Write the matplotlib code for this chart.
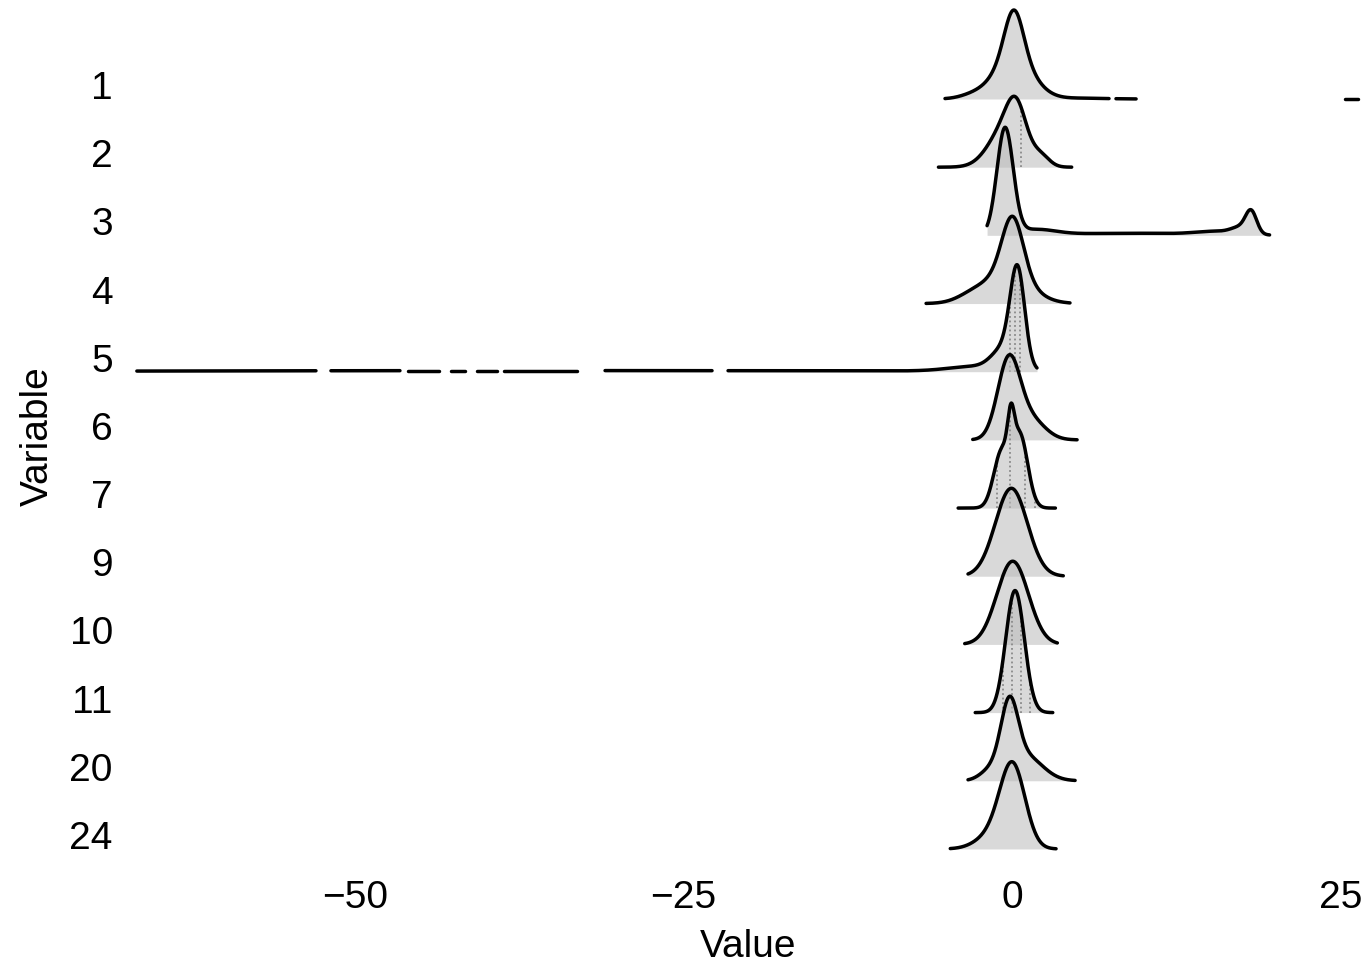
import numpy as np
import matplotlib.pyplot as plt

plt.rcParams['font.family'] = ['Liberation Sans', 'DejaVu Sans']

# rows, top to bottom
variables = ['1', '2', '3', '4', '5', '6', '7', '9', '10', '11', '20', '24']

# height of each ridge's highest point, in row spacings
peak_heights = [1.305, 1.04, 1.585, 1.28, 1.57, 1.25, 1.54, 1.29, 1.22, 1.79, 1.24, 1.28]

# density shape of each variable as bumps (amplitude, centre, width)
shapes = {
    '1': [(0.55, 0.15, 0.7), (0.5, 0.1, 1.45), (0.04, -3.0, 1.0), (0.01, 5.0, 2.0)],
    '2': [(0.7, -0.5, 1.25), (0.7, 0.35, 0.75), (0.18, 2.2, 0.65)],
    '3': [(1.0, -0.53, 0.62), (0.05, 1.8, 1.5), (0.02, 9.0, 5.0), (0.03, 15.5, 1.5),
          (0.2, 18.2, 0.42), (0.06, 17.4, 0.7)],
    '4': [(0.7, 0.05, 0.8), (0.35, -0.3, 1.7), (0.08, -3.0, 1.2)],
    '5': [(1.0, 0.42, 0.55), (0.22, -0.6, 0.9), (0.05, -2.8, 2.0), (0.012, -35.0, 30.0)],
    '6': [(0.85, -0.25, 0.85), (0.22, 1.4, 1.1)],
    '7': [(0.4, -0.08, 0.25), (0.72, 0.6, 0.6), (0.55, -0.8, 0.6)],
    '9': [(1.0, -0.05, 1.22)],
    '10': [(1.0, 0.05, 1.2)],
    '11': [(1.0, 0.23, 0.71)],
    '20': [(0.8, -0.2, 0.65), (0.3, 1.0, 1.3), (0.12, -1.6, 0.8)],
    '24': [(0.9, 0.05, 0.95), (0.15, -1.5, 1.2)],
}

# value ranges where each density line is drawn (gaps = density cut off)
segments = {
    '1': [(-5.1, 7.38), (7.91, 9.44), (25.34, 26.33)],
    '2': [(-5.6, 4.54)],
    '3': [(-1.9, 19.6)],
    '4': [(-6.54, 4.41)],
    '5': [(-66.6, -52.97), (-51.83, -46.58), (-45.97, -43.61), (-42.69, -41.63),
          (-40.72, -39.19), (-38.66, -33.11), (-30.97, -22.83), (-21.61, 1.9)],
    '6': [(-2.99, 4.95)],
    '7': [(-4.1, 3.3)],
    '9': [(-3.35, 3.9)],
    '10': [(-3.6, 3.45)],
    '11': [(-2.8, 3.1)],
    '20': [(-3.35, 4.8)],
    '24': [(-4.7, 3.35)],
}

# values where many points pile up (dotted columns inside the ridges)
stacks = {
    '2': [0.66],
    '5': [-0.15, 0.23, 0.61],
    '7': [-1.16, -0.15, 1.0, 1.75],
    '11': [-0.68, 0.0, 0.66, 1.37],
}


def density(var, x):
    return sum(a * np.exp(-0.5 * ((x - m) / s) ** 2) for a, m, s in shapes[var])


fig = plt.figure(figsize=(13.68, 9.65), dpi=100)
ax = fig.add_axes([131.6 / 1368, 93 / 965, (1364.2 - 131.6) / 1368, 872 / 965])

n = len(variables)
for i, var in enumerate(variables):
    base = n - 1 - i
    xs = [np.linspace(lo, hi, 800) for lo, hi in segments[var]]
    top = max(density(var, x).max() for x in xs)
    scale = peak_heights[i] / top
    for x in xs:
        y = base + density(var, x) * scale
        ax.fill_between(x, base, y, color='#bbbbbb', alpha=0.55, lw=0, zorder=3 * i + 1)
        ax.plot(x, y, color='black', lw=2.5, zorder=3 * i + 3, solid_capstyle='round')
    for v in stacks.get(var, []):
        ax.vlines(v, base, base + density(var, v) * scale * 0.97, colors='#8a8a8a',
                  linestyles=(0, (1, 1.5)), lw=1.3, zorder=3 * i + 2)

ax.set_xlim(-67.0, 26.8)
ax.set_ylim(-0.338, 12.452)

ax.set_xticks([-50, -25, 0, 25], ['\u221250', '\u221225', '0', '25'])
ax.set_yticks([n - 1 - i for i in range(n)], variables)
for lab in ax.get_yticklabels():
    lab.set_verticalalignment('baseline')

ax.tick_params(length=0, labelsize=28, colors='black')
ax.tick_params(axis='x', pad=5.5)
ax.tick_params(axis='y', pad=13.5)
for sp in ax.spines.values():
    sp.set_visible(False)

ax.set_xlabel('Value', fontsize=28, labelpad=9.5)
ax.set_ylabel('Variable', fontsize=28, labelpad=10)

fig.savefig('out.png', dpi=100)
